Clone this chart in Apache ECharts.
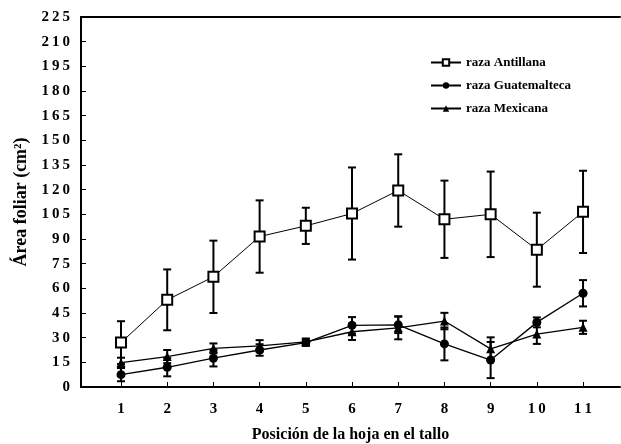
<!DOCTYPE html>
<html>
<head>
<meta charset="utf-8">
<script src="https://cdn.jsdelivr.net/npm/echarts@6/dist/echarts.min.js"></script>
<style>
  html, body { margin: 0; padding: 0; background: #fff; }
</style>
</head>
<body>
<div id="main" style="width: 621px; height: 444px;"></div>
<script>
// hoja positions
var positions = [1, 2, 3, 4, 5, 6, 7, 8, 9, 10, 11];
var yTicks = [0, 15, 30, 45, 60, 75, 90, 105, 120, 135, 150, 165, 180, 195, 210, 225];

// area foliar (cm2) and error bars
var antillana = [27, 53, 67, 91.5, 98, 105.5, 119.5, 102, 105, 83.5, 106.5];
var antillanaErr = [13, 18.5, 22, 22, 11, 28, 22, 23.5, 26, 22.5, 25];
var guatemalteca = [7.5, 12, 17.5, 22.5, 27, 37.5, 37.8, 26.2, 16.4, 39.3, 57];
var guatemaltecaErr = [4, 5.5, 5, 3.5, 2, 5, 5, 10, 11, 3, 8];
var mexicana = [14.8, 18.5, 23.5, 25, 27.5, 33.6, 36, 40.1, 23.2, 32.2, 36.3];
var mexicanaErr = [3, 4, 3, 3.5, 2, 5, 7, 5, 7, 6, 4];

var serif = 'Liberation Serif';

var myChart = echarts.init(document.getElementById('main'));

function toPairs(vals) {
  return vals.map(function (v, i) { return [positions[i], v]; });
}
function toErr(vals, errs) {
  return vals.map(function (v, i) { return [positions[i], v - errs[i], v + errs[i]]; });
}

function renderErr(params, api) {
  var x = api.value(0);
  var lo = api.coord([x, api.value(1)]);
  var hi = api.coord([x, api.value(2)]);
  var w = 4;
  var st = { stroke: '#000', lineWidth: 2 };
  return {
    type: 'group',
    children: [
      { type: 'line', shape: { x1: lo[0], y1: lo[1], x2: hi[0], y2: hi[1] }, style: st },
      { type: 'line', shape: { x1: hi[0] - w, y1: hi[1], x2: hi[0] + w, y2: hi[1] }, style: st },
      { type: 'line', shape: { x1: lo[0] - w, y1: lo[1], x2: lo[0] + w, y2: lo[1] }, style: st }
    ]
  };
}

function spaced(v) {
  return String(v).split('').join('\u2009');
}

var option = {
  backgroundColor: '#fff',
  animation: false,
  grid: { left: 81, right: 1, top: 17, bottom: 57, containLabel: false, outerBoundsMode: 'none' },
  legend: {
    orient: 'vertical',
    left: 425,
    top: 51,
    itemGap: 10,
    itemWidth: 30,
    itemHeight: 8,
    textStyle: { fontFamily: serif, fontWeight: 'bold', fontSize: 13, color: '#000' },
    data: ['raza Antillana', 'raza Guatemalteca', 'raza Mexicana']
  },
  xAxis: [{
    type: 'value',
    min: 0.134,
    max: 11.8,
    splitLine: { show: false },
    axisLine: { lineStyle: { color: '#000', width: 2 } },
    axisTick: { inside: true, length: 5, customValues: positions, lineStyle: { color: '#000' } },
    axisLabel: {
      customValues: positions,
      margin: 15,
      fontFamily: serif, fontWeight: 'bold', fontSize: 15, color: '#000',
      formatter: spaced
    },
    name: 'Posición de la hoja en el tallo',
    nameLocation: 'middle',
    nameGap: 40,
    nameTextStyle: { fontFamily: serif, fontWeight: 'bold', fontSize: 16, color: '#000' }
  }, {
    type: 'value',
    position: 'top',
    min: 0.134,
    max: 11.8,
    splitLine: { show: false },
    axisLine: { show: true, lineStyle: { color: '#000', width: 2 } },
    axisTick: { show: false },
    axisLabel: { show: false }
  }],
  yAxis: {
    type: 'value',
    min: 0,
    max: 225,
    interval: 15,
    splitLine: { show: false },
    axisLine: { show: true, lineStyle: { color: '#000', width: 2 } },
    axisTick: { inside: true, length: 5, lineStyle: { color: '#000' } },
    axisLabel: {
      margin: 11,
      fontFamily: serif, fontWeight: 'bold', fontSize: 15, color: '#000',
      formatter: spaced
    },
    name: 'Área foliar (cm²)',
    nameLocation: 'middle',
    nameGap: 50,
    nameTextStyle: { fontFamily: serif, fontWeight: 'bold', fontSize: 18, color: '#000' }
  },
  series: [
    {
      type: 'custom', renderItem: renderErr, data: toErr(antillana, antillanaErr), z: 1,
      encode: { x: 0, y: [1, 2] }, silent: true
    },
    {
      type: 'custom', renderItem: renderErr, data: toErr(guatemalteca, guatemaltecaErr), z: 1,
      encode: { x: 0, y: [1, 2] }, silent: true
    },
    {
      type: 'custom', renderItem: renderErr, data: toErr(mexicana, mexicanaErr), z: 1,
      encode: { x: 0, y: [1, 2] }, silent: true
    },
    {
      name: 'raza Antillana',
      type: 'line',
      data: toPairs(antillana),
      symbol: 'rect',
      symbolSize: 10,
      z: 5,
      lineStyle: { color: '#000', width: 1 },
      itemStyle: { color: '#fff', borderColor: '#000', borderWidth: 2 }
    },
    {
      name: 'raza Guatemalteca',
      type: 'line',
      data: toPairs(guatemalteca),
      symbol: 'circle',
      symbolSize: 9,
      z: 4,
      lineStyle: { color: '#000', width: 1.3 },
      itemStyle: { color: '#000', borderColor: '#000', borderWidth: 0 }
    },
    {
      name: 'raza Mexicana',
      type: 'line',
      data: toPairs(mexicana),
      symbol: 'triangle',
      symbolSize: 9,
      z: 4,
      lineStyle: { color: '#000', width: 1.3 },
      itemStyle: { color: '#000', borderColor: '#000', borderWidth: 0 }
    }
  ]
};

myChart.setOption(option);
</script>
</body>
</html>
